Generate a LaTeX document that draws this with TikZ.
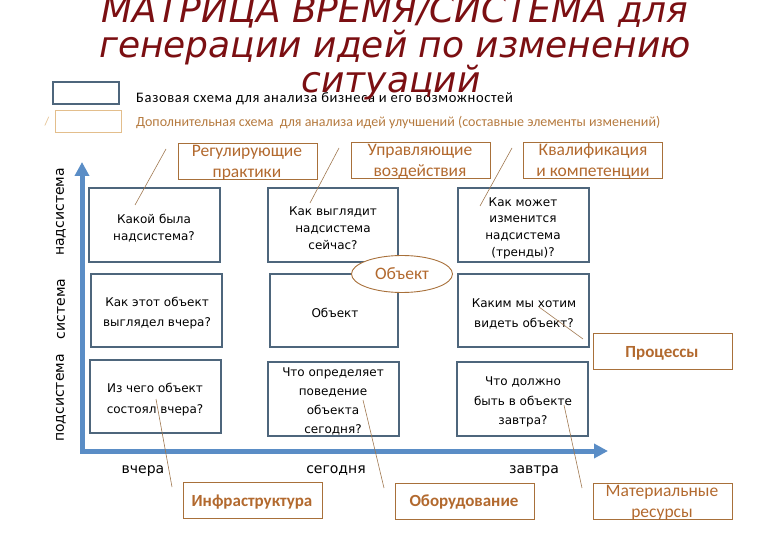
\documentclass[tikz,border=0pt]{standalone}
\usepackage{fontspec}
\setmainfont{DejaVu Sans}
\newfontfamily\carl{Carlito}
\newfontfamily\carlsp[LetterSpace=4.5]{Carlito}
\usetikzlibrary{arrows.meta,shapes.geometric}
\definecolor{titlered}{HTML}{7B0F12}
\definecolor{boxblue}{HTML}{4E667C}
\definecolor{axisblue}{HTML}{5A8DC6}
\definecolor{obrown}{HTML}{A8703A}
\definecolor{otext}{HTML}{B2692E}
\definecolor{legorange}{HTML}{E3BE8C}
\definecolor{legtext}{HTML}{B57A3F}
\definecolor{leadc}{HTML}{A07850}
\begin{document}
\begin{tikzpicture}[x=1pt,y=-1pt,
  bbox/.style={draw=boxblue,line width=2pt,minimum width=131pt,minimum height=74pt,inner sep=0pt},
  obox/.style={draw=obrown,line width=0.9pt,minimum width=139pt,minimum height=36pt,inner sep=0pt},
  btxt/.style={font=\fontsize{12}{#1}\selectfont,align=center,inner sep=0pt},
  btxt/.default=19.5,
  otxt/.style={font=\carl\fontsize{17.5}{21}\selectfont,text=otext,align=center,inner sep=0pt},
  obold/.style={otxt,font=\carl\bfseries\fontsize{17}{21}\selectfont},
  lead/.style={draw=leadc,line width=0.6pt},
  axislab/.style={font=\fontsize{14}{14}\selectfont,inner sep=0pt},
  titletxt/.style={font=\fontsize{36}{35}\selectfont\itshape,text=titlered,anchor=base,inner sep=0pt}
]
\useasboundingbox (0,0) rectangle (780,540);

% legend
\node[draw=boxblue,line width=2pt,minimum width=66pt,minimum height=22pt,inner sep=0pt] (legb) at (86,93.5) {};
\node[draw=legorange,line width=1pt,minimum width=66pt,minimum height=22pt,inner sep=0pt] (lego) at (88,122) {};
\node[anchor=base west,inner sep=0pt,font=\carlsp\fontsize{14.5}{14}\selectfont] (legbt) at (136,103) {Базовая схема для анализа бизнеса и его возможностей};
\node[anchor=base west,inner sep=0pt,font=\carl\fontsize{14}{14}\selectfont,text=legtext] (legot) at (136,127) {Дополнительная схема \ для анализа идей улучшений (составные элементы изменений)};
\node[inner sep=0pt,font=\carl\fontsize{12}{12}\selectfont,text=legorange] (slash) at (47,122) {/};

% title
\node[titletxt] (title1) at (395,23) {МАТРИЦА ВРЕМЯ/СИСТЕМА для};
\node[titletxt] (title2) at (395,58) {генерации идей по изменению};
\node[titletxt] (title3) at (391,93) {ситуаций};

% axes
\coordinate (ytip) at (82,162);
\coordinate (org) at (82,451);
\coordinate (xtip) at (608,451);
\draw[axisblue,line width=5pt,{Triangle[length=14pt,width=14pt]}-{Triangle[length=14pt,width=14pt]}] (ytip) -- (org) -- (xtip);

\node[axislab,rotate=90] (lnad) at (61,212) {надсистема};
\node[axislab,rotate=90] (lsys) at (61,309) {система};
\node[axislab,rotate=90] (lpod) at (61,398) {подсистема};
\node[axislab] (lvch) at (143,471) {вчера};
\node[axislab] (lseg) at (336,471) {сегодня};
\node[axislab] (lzav) at (534,471) {завтра};

% matrix boxes
\node[bbox] (a1) at (154.5,225) {};
\node[bbox,minimum width=130pt] (a2) at (333,225) {};
\node[bbox] (a3) at (523.5,225) {};
\node[bbox,minimum height=73pt] (b1) at (156.5,310.5) {};
\node[bbox,minimum width=128pt,minimum height=73pt] (b2) at (334,310.5) {};
\node[bbox,minimum height=73pt] (b3) at (523.5,310.5) {};
\node[bbox,minimum height=73pt] (c1) at (155.5,396.5) {};
\node[bbox] (c2) at (333.5,399) {};
\node[bbox] (c3) at (522.5,399) {};

\node[btxt=16.5] (ta1) at (154,228) {Какой была\\надсистема?};
\node[btxt=17] (ta2) at (333,228) {Как выглядит\\надсистема\\сейчас?};
\node[btxt=16.7] (ta3) at (523,228) {Как может\\изменится\\надсистема\\(тренды)?};
\node[btxt] (tb1) at (157,313) {Как этот объект\\выглядел вчера?};
\node[btxt] (tb2) at (335,313) {Объект};
\node[btxt] (tb3) at (524,314) {Каким мы хотим\\видеть объект?};
\node[btxt=20.5] (tc1) at (155,399.5) {Из чего объект\\состоял вчера?};
\node[btxt=19] (tc2) at (333,401.5) {Что определяет\\поведение\\объекта\\сегодня?};
\node[btxt=19.5] (tc3) at (523,402) {Что должно\\быть в объекте\\завтра?};

% ellipse
\node[ellipse,draw=obrown,line width=0.9pt,fill=white,minimum width=101pt,minimum height=37pt,inner sep=0pt,
  font=\carl\fontsize{17.5}{17}\selectfont,text=otext] (ell) at (402,274) {Объект};

% orange boxes
\node[obox] (orr) at (247.5,161) {};
\node[obox] (oru) at (420.5,160) {};
\node[obox] (ork) at (593,160) {};
\node[obox] (ori) at (252.5,500) {};
\node[obox] (oro) at (464.5,501) {};
\node[obox] (orm) at (662.5,501) {};
\node[obox] (orp) at (662.5,351) {};

\node[otxt] (tr) at (247,163) {Регулирующие\\практики};
\node[otxt] (tu) at (420,162) {Управляющие\\воздействия};
\node[otxt] (tk) at (593,162) {Квалификация\\и компетенции};
\node[obold] (ti) at (252,502) {Инфраструктура};
\node[obold] (to) at (464,502) {Оборудование};
\node[otxt] (tm) at (662,503) {Материальные\\ресурсы};
\node[obold] (tp) at (662,353) {Процессы};

% leader lines
\coordinate (l1a) at (135,205); \coordinate (l1b) at (166,149);
\coordinate (l2a) at (310,203); \coordinate (l2b) at (339,148);
\coordinate (l3a) at (480,206); \coordinate (l3b) at (512,148);
\coordinate (l4a) at (539,307); \coordinate (l4b) at (583,339);
\coordinate (l5a) at (156,399); \coordinate (l5b) at (172,487);
\coordinate (l6a) at (363,400); \coordinate (l6b) at (384,488);
\coordinate (l7a) at (564,405); \coordinate (l7b) at (582,488);
\draw[lead] (l1a) -- (l1b);
\draw[lead] (l2a) -- (l2b);
\draw[lead] (l3a) -- (l3b);
\draw[lead] (l4a) -- (l4b);
\draw[lead] (l5a) -- (l5b);
\draw[lead] (l6a) -- (l6b);
\draw[lead] (l7a) -- (l7b);
\end{tikzpicture}
\end{document}
